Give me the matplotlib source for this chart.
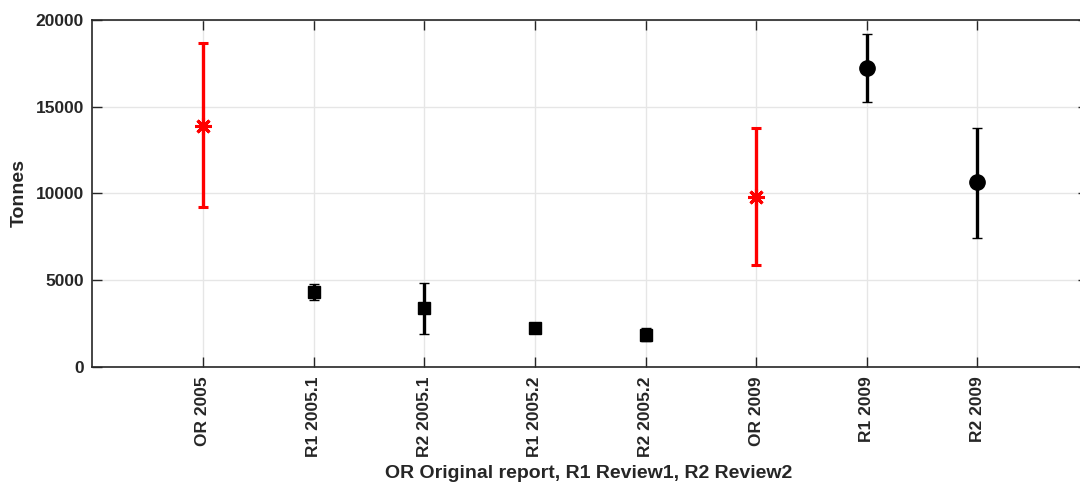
import matplotlib
matplotlib.use("Agg")
import matplotlib.pyplot as plt

labels = ["OR 2005", "R1 2005.1", "R2 2005.1", "R1 2005.2", "R2 2005.2",
          "OR 2009", "R1 2009", "R2 2009"]
values = [13900, 4300, 3400, 2250, 1850, 9800, 17250, 10650]
lower = [9200, 3880, 1900, 2150, 1480, 5850, 15300, 7450]
upper = [18650, 4760, 4850, 2350, 2260, 13750, 19200, 13800]
colors = ["red", "black", "black", "black", "black", "red", "black", "black"]
markers = [(8, 2, 0), "s", "s", "s", "s", (8, 2, 0), "o", "o"]

plt.rcParams["font.family"] = ["Liberation Sans", "DejaVu Sans"]
plt.rcParams["font.weight"] = "bold"

fig = plt.figure(figsize=(10.8, 4.82), dpi=100)
ax = fig.add_axes([0.0855, 0.2386, 0.922, 0.72])

for i in range(len(labels)):
    x = i + 1
    ms = 11 if markers[i] == "o" else (9 if markers[i] == "s" else 12)
    ax.errorbar(x, values[i],
                yerr=[[values[i] - lower[i]], [upper[i] - values[i]]],
                color=colors[i], marker=markers[i], markersize=ms,
                markeredgewidth=2.2 if colors[i] == "red" else 1,
                elinewidth=2.4, capsize=3.8, capthick=2.9, linestyle="none",
                zorder=3)

ax.set_xlim(0, 9)
ax.set_ylim(0, 20000)
ax.set_xticks(range(1, len(labels) + 1))
ax.set_xticklabels(labels, rotation=90, fontsize=12.5, fontweight="bold")
ax.set_yticks([0, 5000, 10000, 15000, 20000])
ax.tick_params(axis="y", labelsize=12.5, pad=6)
ax.tick_params(axis="x", pad=7)
ax.tick_params(direction="in", top=True, right=True, length=7,
               width=1, colors="#262626")
for lab in ax.get_xticklabels() + ax.get_yticklabels():
    lab.set_color("#262626")
    lab.set_fontweight("bold")
ax.grid(True, color="#e6e6e6", linewidth=1)
ax.set_axisbelow(True)
for s in ax.spines.values():
    s.set_color("#262626")
    s.set_linewidth(1.2)

ax.set_ylabel("Tonnes", fontsize=14, fontweight="bold", color="#262626",
              labelpad=6)
ax.set_xlabel("OR Original report, R1 Review1, R2 Review2", fontsize=14,
              fontweight="bold", color="#262626")
ax.xaxis.set_label_coords(0.4985, -0.283)

fig.savefig("out.png", dpi=100)
